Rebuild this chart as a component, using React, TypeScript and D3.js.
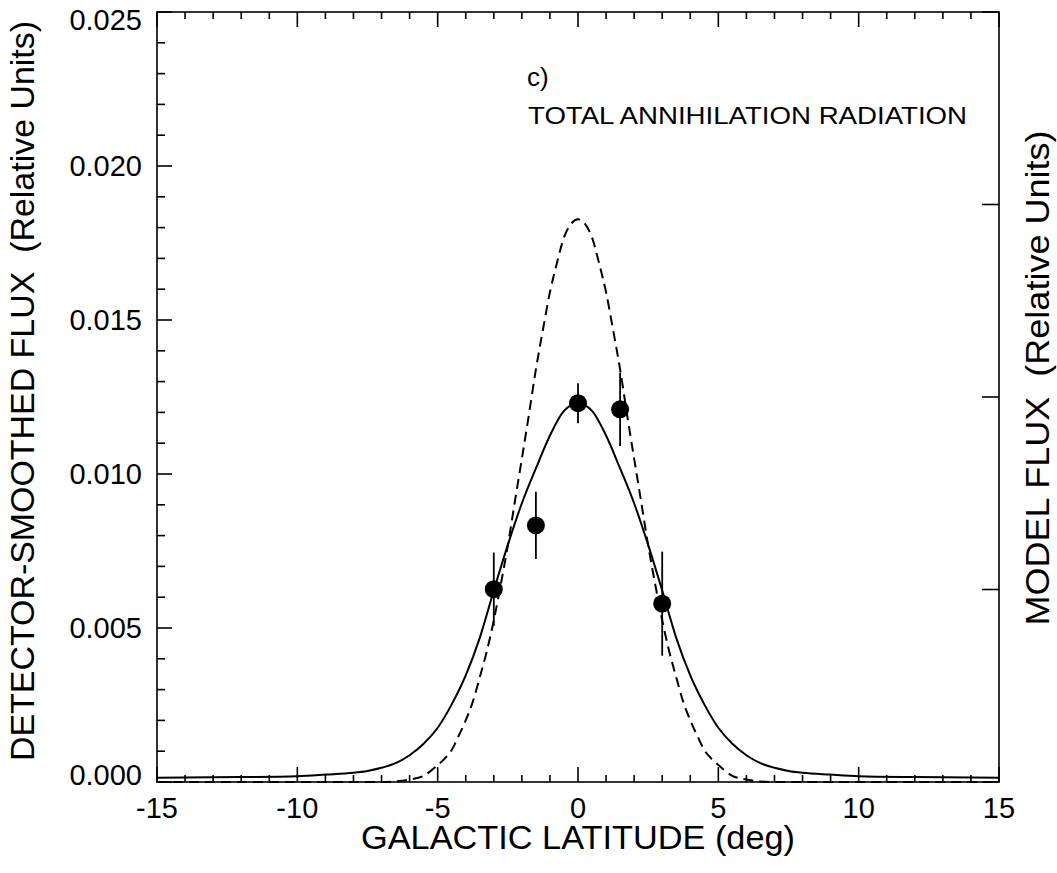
import React from "react";
import * as d3 from "d3";

// ---- data ----
const xTickValues = [-15, -10, -5, 0, 5, 10, 15];
const xTickLabels = ["-15", "-10", "-5", "0", "5", "10", "15"];
const yTickValues = [0, 0.005, 0.01, 0.015, 0.02, 0.025];
const yTickLabels = ["0.000", "0.005", "0.010", "0.015", "0.020", "0.025"];
const rightTickValues = [0, 1, 2, 3, 4];

const pointLat = [-3, -1.5, 0, 1.5, 3];
const pointFlux = [0.00626, 0.00833, 0.0123, 0.0121, 0.00579];
const pointErr = [0.00119, 0.00109, 0.00065, 0.00119, 0.00169];

// detector-smoothed model (solid)
const smoothLat = [
  -15, -12, -10, -9, -8, -7.5, -7, -6.5, -6, -5.5, -5, -4.5, -4, -3.5, -3, -2.5, -2, -1.5, -1, -0.5, 0,
  0.5, 1, 1.5, 2, 2.5, 3, 3.5, 4, 4.5, 5, 5.5, 6, 6.5, 7, 7.5, 8, 9, 10, 12, 15,
];
const smoothFlux = [
  0.00014, 0.00016, 0.00019, 0.00024, 0.0003, 0.00036, 0.00046, 0.00061, 0.00087, 0.00124, 0.00176,
  0.00252, 0.00346, 0.00468, 0.00622, 0.0077, 0.00905, 0.01018, 0.01125, 0.01205, 0.0123,
  0.01205, 0.01125, 0.01018, 0.00905, 0.0077, 0.00622, 0.00468, 0.00346, 0.00252, 0.00176, 0.00124,
  0.00087, 0.00061, 0.00046, 0.00036, 0.0003, 0.00024, 0.00019, 0.00016, 0.00014,
];

// model flux (dashed)
const modelLat = [
  -15, -7, -6.5, -6, -5.5, -5, -4.75, -4.5, -4.25, -4, -3.75, -3.5, -3.25, -3, -2.75, -2.5, -2.25, -2,
  -1.75, -1.5, -1.25, -1, -0.75, -0.5, -0.25, 0, 0.25, 0.5, 0.75, 1, 1.25, 1.5, 1.75, 2, 2.25, 2.5,
  2.75, 3, 3.25, 3.5, 3.75, 4, 4.25, 4.5, 4.75, 5, 5.5, 6, 6.5, 7, 15,
];
const modelFlux = [
  0, 0, 0.00002, 0.00008, 0.0002, 0.00055, 0.00076, 0.00104, 0.0015, 0.002, 0.0026, 0.0034, 0.00424,
  0.00525, 0.00642, 0.00768, 0.0091, 0.0105, 0.01192, 0.0134, 0.01468, 0.0159, 0.01685, 0.01768,
  0.01812, 0.01827, 0.01812, 0.01768, 0.01685, 0.0159, 0.01468, 0.0134, 0.01192, 0.0105, 0.0091,
  0.00768, 0.00642, 0.00525, 0.00424, 0.0034, 0.0026, 0.002, 0.0015, 0.00104, 0.00076, 0.00055,
  0.0002, 0.00008, 0.00002, 0, 0,
];

const W = 1057;
const H = 873;
const M = { left: 157, right: 999, top: 12, bottom: 782 };
const FONT = "'Liberation Sans', Arial, Helvetica, sans-serif";

export default function App() {
  const x = d3.scaleLinear().domain([-15, 15]).range([M.left, M.right]);
  const y = d3.scaleLinear().domain([0, 0.025]).range([M.bottom, M.top]);
  const yr = d3.scaleLinear().domain([0, 4]).range([M.bottom, M.top]);

  const xMinor = d3.range(-15, 15.001, 1);
  const yMinor = d3.range(0, 0.02501, 0.001);

  const line = d3
    .line<[number, number]>()
    .x((d) => x(d[0]))
    .y((d) => y(d[1]))
    .curve(d3.curveMonotoneX);

  const smoothPts = smoothLat.map((v, i) => [v, smoothFlux[i]] as [number, number]);
  const modelPts = modelLat.map((v, i) => [v, modelFlux[i]] as [number, number]);

  const black = "#000";
  const axisW = 1.6;

  return (
    <svg
      width={W}
      height={H}
      style={{ position: "absolute", left: 0, top: 0, background: "#fff" }}
      fontFamily={FONT}
    >
      <rect x={0} y={0} width={W} height={H} fill="#fff" />

      {/* curves */}
      <path d={line(modelPts) || ""} fill="none" stroke={black} strokeWidth={2} strokeDasharray="10,6" />
      <path d={line(smoothPts) || ""} fill="none" stroke={black} strokeWidth={2} />

      {/* frame */}
      <rect
        x={M.left}
        y={M.top}
        width={M.right - M.left}
        height={M.bottom - M.top}
        fill="none"
        stroke={black}
        strokeWidth={axisW}
      />

      {/* x ticks bottom & top */}
      {xMinor.map((v) => {
        const major = Math.abs(v % 5) < 1e-9;
        const len = major ? 15 : 7;
        return (
          <g key={"xt" + v}>
            <line x1={x(v)} x2={x(v)} y1={M.bottom} y2={M.bottom - len} stroke={black} strokeWidth={axisW} />
            <line x1={x(v)} x2={x(v)} y1={M.top} y2={M.top + len} stroke={black} strokeWidth={axisW} />
          </g>
        );
      })}

      {/* y ticks left */}
      {yMinor.map((v, i) => {
        const major = i % 5 === 0;
        const len = major ? 15 : 8;
        return (
          <line key={"yt" + i} x1={M.left} x2={M.left + len} y1={y(v)} y2={y(v)} stroke={black} strokeWidth={axisW} />
        );
      })}

      {/* right axis ticks (no labels) */}
      {rightTickValues.map((v) => (
        <line key={"rt" + v} x1={M.right} x2={M.right - 17} y1={yr(v)} y2={yr(v)} stroke={black} strokeWidth={axisW} />
      ))}

      {/* x tick labels */}
      {xTickValues.map((v, i) => (
        <text key={"xl" + v} x={x(v)} y={818} fontSize={29} textAnchor="middle" fill={black}>
          {xTickLabels[i]}
        </text>
      ))}

      {/* y tick labels */}
      {yTickValues.map((v, i) => {
        const cy = Math.min(Math.max(y(v), 20), 775);
        return (
          <text key={"yl" + v} x={142} y={cy} dy="0.36em" fontSize={29} textAnchor="end" fill={black}>
            {yTickLabels[i]}
          </text>
        );
      })}

      {/* data points with error bars */}
      {pointLat.map((v, i) => (
        <g key={"pt" + i}>
          <line
            x1={x(v)}
            x2={x(v)}
            y1={y(pointFlux[i] - pointErr[i])}
            y2={y(pointFlux[i] + pointErr[i])}
            stroke={black}
            strokeWidth={1.8}
          />
          <circle cx={x(v)} cy={y(pointFlux[i])} r={9} fill={black} />
        </g>
      ))}

      {/* annotations */}
      <text x={527} y={86} fontSize={26} fill={black}>
        c)
      </text>
      <text x={528} y={124} fontSize={24} fill={black} textLength={439} lengthAdjust="spacingAndGlyphs">
        TOTAL ANNIHILATION RADIATION
      </text>

      {/* axis titles */}
      <text x={578} y={849} fontSize={33} textAnchor="middle" fill={black} textLength={434} lengthAdjust="spacingAndGlyphs">
        GALACTIC LATITUDE (deg)
      </text>
      <text
        transform={`translate(34, 391) rotate(-90)`}
        fontSize={34}
        textAnchor="middle"
        fill={black}
        textLength={740}
        lengthAdjust="spacingAndGlyphs"
      >
        DETECTOR-SMOOTHED FLUX{"\u00a0\u00a0"}(Relative Units)
      </text>
      <text
        transform={`translate(1049, 378) rotate(-90)`}
        fontSize={34}
        textAnchor="middle"
        fill={black}
        textLength={495}
        lengthAdjust="spacingAndGlyphs"
      >
        MODEL FLUX{"\u00a0\u00a0"}(Relative Units)
      </text>
    </svg>
  );
}
